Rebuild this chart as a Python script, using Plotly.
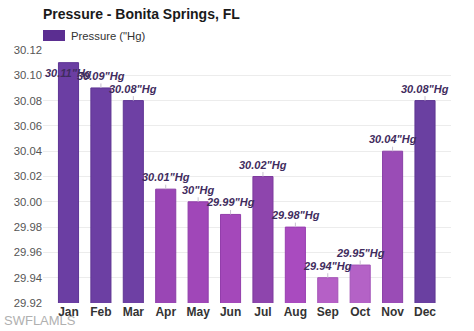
import plotly.graph_objects as go

months = ["Jan", "Feb", "Mar", "Apr", "May", "Jun", "Jul", "Aug", "Sep", "Oct", "Nov", "Dec"]
pressure = [30.11, 30.09, 30.08, 30.01, 30.00, 29.99, 30.02, 29.98, 29.94, 29.95, 30.04, 30.08]
labels = ['30.11"Hg', '30.09"Hg', '30.08"Hg', '30.01"Hg', '30"Hg', '29.99"Hg',
          '30.02"Hg', '29.98"Hg', '29.94"Hg', '29.95"Hg', '30.04"Hg', '30.08"Hg']
bar_colors = ["#6b3ea3", "#6c3fa3", "#6e40a4", "#9a46b5", "#a047b8", "#a448ba",
              "#8e45ad", "#a94bbf", "#b560c6", "#b462c6", "#9a4cb6", "#6a40a1"]
line_colors = ["#5e3494", "#5f3594", "#613695", "#8a3ca6", "#8f3da9", "#933eab",
               "#7e3b9e", "#983fb0", "#a452b7", "#a354b7", "#8a41a7", "#5d3592"]
y_ticks = [29.92, 29.94, 29.96, 29.98, 30.00, 30.02, 30.04, 30.06, 30.08, 30.10, 30.12]
tick_text = ["29.92", "29.94", "29.96", "29.98", "30.00", "30.02", "30.04", "30.06", "30.08", "30.10", "30.12"]

FONT = "Liberation Sans, Arial, sans-serif"
PW, PH = 408, 253

fig = go.Figure()
fig.add_trace(go.Bar(
    x=months, y=pressure,
    marker=dict(color=bar_colors, line=dict(color=line_colors, width=1)),
    showlegend=False, hoverinfo="skip",
))

label_font = dict(family=FONT, size=11, color="#3f2c5e")
for i, (m, v, t) in enumerate(zip(months, pressure, labels)):
    if i == 0:
        fig.add_annotation(x=m, y=v, text="<b><i>" + t + "</i></b>", showarrow=False,
                           yshift=-10, font=label_font)
    else:
        fig.add_annotation(x=m, y=v, text="<b><i>" + t + "</i></b>", showarrow=True,
                           arrowhead=0, arrowwidth=1, arrowcolor="#c8c0d0",
                           ax=0, ay=-12, font=label_font, standoff=0, startstandoff=0)

# title
fig.add_annotation(xref="paper", yref="paper", x=0, y=1, xanchor="left", yanchor="bottom",
                   xshift=-2, yshift=26, text="<b>Pressure - Bonita Springs, FL</b>", showarrow=False,
                   font=dict(family=FONT, size=14, color="#1a1a1a"))
# legend
fig.add_shape(type="rect", xref="paper", yref="paper", x0=0, x1=22 / PW, y0=1 + 9 / PH, y1=1 + 20 / PH,
              fillcolor="#5b2e91", line=dict(width=0))
fig.add_annotation(xref="paper", yref="paper", x=26 / PW, y=1 + 14.5 / PH, xanchor="left", yanchor="middle",
                   text='Pressure ("Hg)', showarrow=False,
                   font=dict(family=FONT, size=11.3, color="#333333"))
# watermark
fig.add_annotation(xref="paper", yref="paper", x=-41 / PW, y=-17 / PH, xanchor="left", yanchor="middle",
                   text="SWFLAMLS", showarrow=False,
                   font=dict(family=FONT, size=13, color="#b0b0b0"))

fig.update_layout(
    width=474, height=331,
    margin=dict(l=43, r=23, t=50, b=28, autoexpand=False),
    paper_bgcolor="white", plot_bgcolor="white",
    bargap=0.38,
    xaxis=dict(showgrid=False, showline=False, ticks="", automargin=False,
               tickfont=dict(family=FONT, size=12, color="#333333", weight="bold")),
    yaxis=dict(range=[29.92, 30.12], tickvals=y_ticks, ticktext=tick_text, showgrid=True,
               gridcolor="#ececec", gridwidth=1, zeroline=False, showline=False, ticks="",
               automargin=False,
               tickfont=dict(family=FONT, size=11.3, color="#555555")),
)

fig.write_html("out.html")
